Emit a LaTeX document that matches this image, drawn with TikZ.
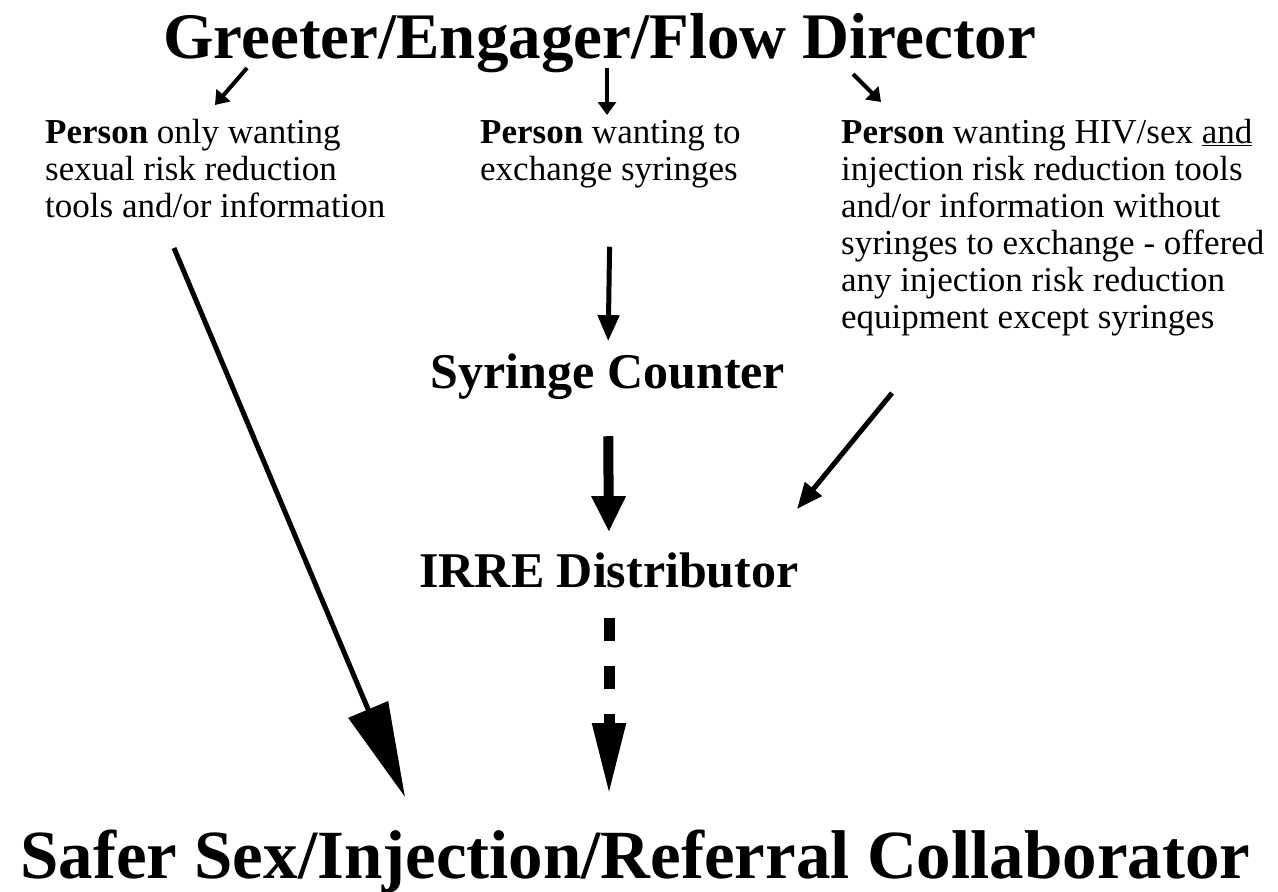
\documentclass[tikz,border=0pt]{standalone}
\usepackage{fontspec}
\setmainfont{Liberation Serif}
\usetikzlibrary{arrows.meta}

\tikzset{
	bodytext/.style={align=left, inner sep=0pt, font=\fontsize{35}{37}\selectfont},
	boxtitle/.style={inner sep=0pt, font=\bfseries\fontsize{50}{55}\selectfont},
	smallarrow/.style={line width=4pt, -{Triangle[length=13pt,width=18pt]}},
	thinarrow/.style={line width=5pt, -{Triangle[length=26pt,width=21pt]}},
	thickarrow/.style={line width=10pt, -{Triangle[length=36pt,width=32pt]}},
	dasharrow/.style={line width=11pt, dash pattern=on 23pt off 25pt, -{Triangle[length=72pt,width=31pt]}},
	longarrow/.style={line width=5pt, -{Triangle[length=95pt,width=42pt]}}
}

\begin{document}
\begin{tikzpicture}[x=1pt, y=-1pt]
	\useasboundingbox (0,0) rectangle (1278,892);
	
	\node[anchor=base west, inner sep=0pt, font=\bfseries\fontsize{65}{70}\selectfont] (greeter) at (163,58) {Greeter/Engager/Flow Director};
	
	% base = last line of each block
	\node[bodytext, anchor=base west] (sexonly) at (45,217) {\textbf{Person} only wanting\\ sexual risk reduction\\ tools and/or information};
	\node[bodytext, anchor=base west] (exchange) at (480,180) {\textbf{Person} wanting to\\ exchange syringes};
	\node[bodytext, anchor=base west] (both) at (841,328) {\textbf{Person} wanting HIV/sex \underline{and}\\ injection risk reduction tools\\ and/or information without\\ syringes to exchange - offered\\ any injection risk reduction\\ equipment except syringes};
	
	\node[boxtitle, anchor=base] (counter) at (608,388) {Syringe Counter};
	\node[boxtitle, anchor=base] (irre) at (609,587) {IRRE Distributor};
	
	\node[anchor=base west, inner sep=0pt, font=\bfseries\fontsize{69}{74}\selectfont] (collab) at (20,878) {Safer Sex/Injection/Referral Collaborator};
	
	% free ends
	\coordinate (g1) at (247,68);
	\coordinate (g1to) at (215,105);
	\coordinate (g2) at (607,68);
	\coordinate (g2to) at (607,115);
	\coordinate (g3) at (853,74);
	\coordinate (g3to) at (881,102);
	\coordinate (lfrom) at (174,248);
	\coordinate (lto) at (405,797);
	\coordinate (rfrom) at (892,393);
	\coordinate (rto) at (797,509);
	
	\draw[smallarrow] (g1) -- (g1to);
	\draw[smallarrow] (g2) -- (g2to);
	\draw[smallarrow] (g3) -- (g3to);
	
	\draw[thinarrow, shorten <=59pt, shorten >=12pt] (exchange.south) -- (counter.north);
	\draw[thickarrow, shorten <=37pt, shorten >=20pt] (counter.south) -- (irre.north);
	\draw[dasharrow, shorten <=30pt, shorten >=34pt] (irre.south) -- (collab.north -| irre.south);
	
	\draw[longarrow] (lfrom) -- (lto);
	\draw[thinarrow] (rfrom) -- (rto);
	
\end{tikzpicture}
\end{document}
